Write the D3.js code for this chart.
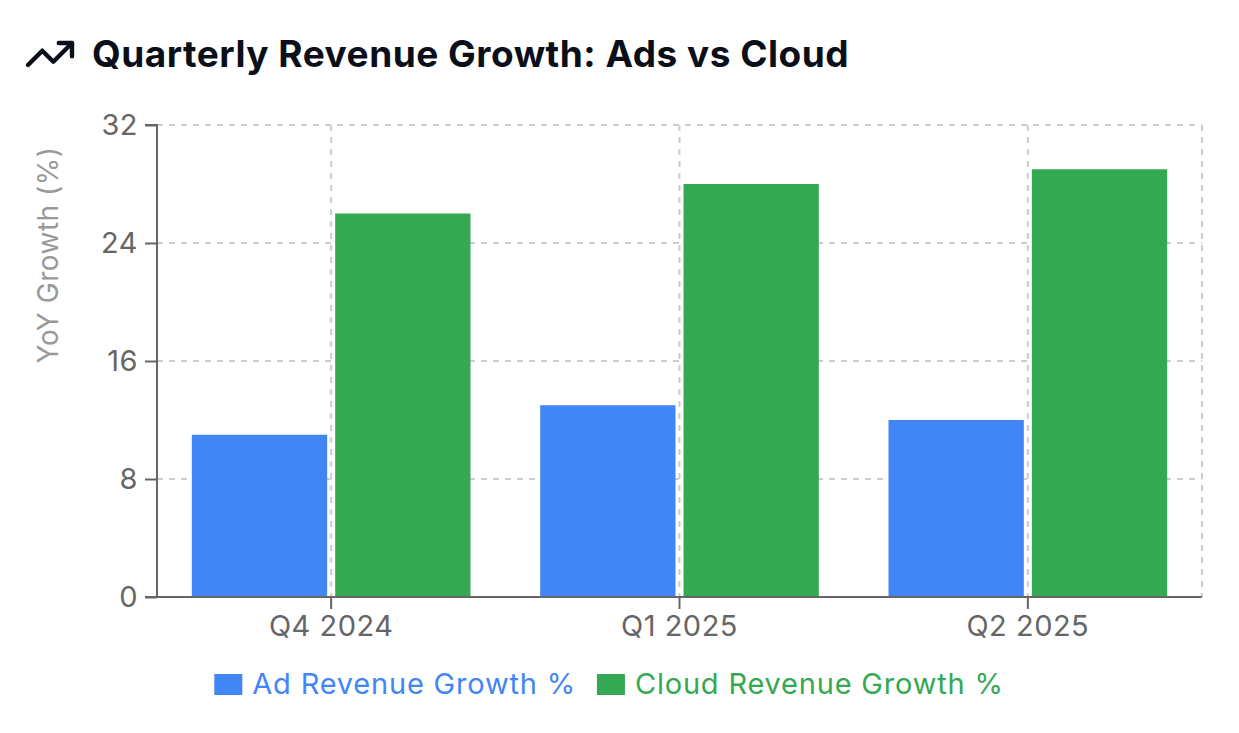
<!DOCTYPE html>
<html>
<head>
<meta charset="utf-8">
<script src="https://cdn.jsdelivr.net/npm/d3@7"></script>
<style>
  html, body { margin: 0; padding: 0; background: #fff; }
  svg { display: block; font-family: Inter, "Noto Sans", sans-serif; }
</style>
</head>
<body>
<div id="chart"></div>
<script>
const quarters = ["Q4 2024", "Q1 2025", "Q2 2025"]
const seriesNames = ["Ad Revenue Growth %", "Cloud Revenue Growth %"]
const adGrowth = [11, 13, 12]
const cloudGrowth = [26, 28, 29]
const yTicks = [0, 8, 16, 24, 32]
const colors = ["#4285F4", "#34A853"]

const w = 1239
const h = 733
const plotLeft = 157, plotRight = 1202, plotTop = 125, plotBottom = 597

const svg = d3.select("#chart").append("svg")
  .attr("width", w)
  .attr("height", h)

// title + trending icon
const icon = svg.append("g")
  .attr("transform", "translate(23.6,27.6) scale(2.2)")
  .attr("fill", "none")
  .attr("stroke", "#0b0f19")
  .attr("stroke-width", 2)
  .attr("stroke-linecap", "round")
  .attr("stroke-linejoin", "round")
icon.append("polyline").attr("points", "22 7 13.5 15.5 8.5 10.5 2 17")
icon.append("polyline").attr("points", "16 7 22 7 22 13")

svg.append("text")
  .attr("x", 92)
  .attr("y", 67)
  .attr("font-size", 37)
  .attr("font-weight", 700)
  .attr("letter-spacing", 0.5)
  .attr("fill", "#0b0f19")
  .text("Quarterly Revenue Growth: Ads vs Cloud")

// scales
const x0 = d3.scaleBand().domain(quarters).range([plotLeft, plotRight]).paddingInner(0.2).paddingOuter(0.1)
const x1 = d3.scaleBand().domain(seriesNames).range([0, x0.bandwidth()]).paddingInner(0.056)
const y = d3.scaleLinear().domain([0, 32]).range([plotBottom, plotTop])

// grid
const grid = svg.append("g")
  .attr("stroke", "#ccc")
  .attr("stroke-width", 2)
  .attr("stroke-dasharray", "6 6")
grid.selectAll("line.h").data(yTicks).enter().append("line")
  .attr("x1", plotLeft).attr("x2", plotRight)
  .attr("y1", d => y(d)).attr("y2", d => y(d))
const vx = quarters.map(q => x0(q) + x0.bandwidth() / 2).concat([plotRight])
grid.selectAll("line.v").data(vx).enter().append("line")
  .attr("x1", d => d).attr("x2", d => d)
  .attr("y1", plotTop).attr("y2", plotBottom)

// bars
const rows = quarters.map((q, i) => ({ q: q, vals: [adGrowth[i], cloudGrowth[i]] }))
const groups = svg.selectAll("g.grp").data(rows).enter().append("g")
  .attr("transform", d => "translate(" + x0(d.q) + ",0)")
groups.selectAll("rect")
  .data(d => d.vals.map((v, j) => ({ name: seriesNames[j], v: v, c: colors[j] })))
  .enter().append("rect")
  .attr("x", d => x1(d.name))
  .attr("width", x1.bandwidth())
  .attr("y", d => y(d.v))
  .attr("height", d => y(0) - y(d.v))
  .attr("fill", d => d.c)

// axes
const yAxis = d3.axisLeft(y).tickValues(yTicks).tickSize(12).tickPadding(7)
const xAxis = d3.axisBottom(x0).tickSize(12).tickPadding(6)

const gy = svg.append("g").attr("transform", "translate(" + plotLeft + ",0)").call(yAxis)
const gx = svg.append("g").attr("transform", "translate(0," + plotBottom + ")").call(xAxis)

;[gx, gy].forEach(g => {
  g.select(".domain").attr("stroke", "#666").attr("stroke-width", 2)
  g.selectAll(".tick line").attr("stroke", "#666").attr("stroke-width", 2)
  g.selectAll(".tick text").attr("fill", "#666").attr("font-size", 29)
    .attr("letter-spacing", 0.5).attr("font-family", "Inter, sans-serif")
})
gx.select(".domain").attr("d", "M" + (plotLeft - 12) + ",0H" + plotRight)
gy.select(".domain").attr("d", "M-12," + plotTop + "H0V" + plotBottom)

svg.append("text")
  .attr("transform", "translate(58,255) rotate(-90)")
  .attr("text-anchor", "middle")
  .attr("font-size", 28)
  .attr("letter-spacing", 0.5)
  .attr("fill", "#999")
  .text("YoY Growth (%)")

// legend
const legend = svg.append("g")
let lx = 0
seriesNames.forEach((name, i) => {
  const item = legend.append("g").attr("transform", "translate(" + lx + ",0)")
  item.append("rect").attr("x", 0).attr("y", 674).attr("width", 28).attr("height", 21).attr("fill", colors[i])
  const t = item.append("text").attr("x", 38).attr("y", 694)
    .attr("font-size", 29).attr("letter-spacing", 0.8).attr("fill", colors[i]).text(name)
  lx += 38 + t.node().getComputedTextLength() + 21
})
const legendW = lx - 21
legend.attr("transform", "translate(" + (609 - legendW / 2) + ",0)")
</script>
</body>
</html>
